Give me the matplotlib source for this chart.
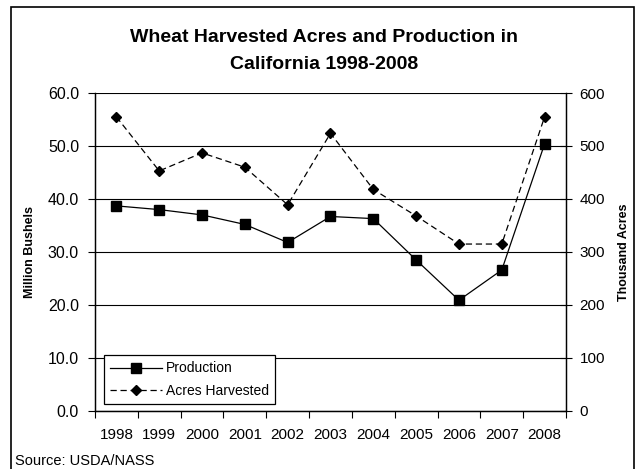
import matplotlib
matplotlib.use("Agg")
from matplotlib import pyplot as plt
from matplotlib.patches import Rectangle

plt.rcParams['font.family'] = ['Liberation Sans', 'DejaVu Sans']

years = ["1998", "1999", "2000", "2001", "2002", "2003",
         "2004", "2005", "2006", "2007", "2008"]
production = [38.7, 38.0, 37.0, 35.2, 31.8, 36.7, 36.3, 28.5, 20.9, 26.6, 50.4]
acres = [555, 453, 487, 460, 389, 524, 418, 368, 315, 315, 555]

x = list(range(len(years)))

fig = plt.figure(figsize=(6.4, 4.69), dpi=100)
ax = fig.add_axes([0.1484, 0.1237, 0.736, 0.678])
ax2 = ax.twinx()

# left axis: production + gridlines
ax.set_ylim(0, 60)
ax.set_yticks([0, 10, 20, 30, 40, 50, 60])
ax.set_yticklabels(["%.1f" % v for v in [0, 10, 20, 30, 40, 50, 60]])
ax.yaxis.grid(True, color="black", linewidth=0.8)
ax.set_axisbelow(True)
ax.tick_params(axis="y", direction="out", length=5, width=0.8, pad=6.5, labelsize=11.5)

ax.set_xlim(-0.5, len(years) - 0.5)
ax.set_xticks(x)
ax.set_xticklabels(years)
ax.set_xticks([i - 0.5 for i in range(len(years) + 1)], minor=True)
ax.tick_params(axis="x", which="major", length=0, pad=12, labelsize=11)
ax.tick_params(axis="x", which="minor", direction="out", length=5, width=0.8)

ax.set_ylabel("Million Bushels", fontsize=9, fontweight="bold")
ax.yaxis.set_label_coords(-0.126, 0.5)

# right axis: acres
ax2.set_ylim(0, 600)
ax2.set_yticks([0, 100, 200, 300, 400, 500, 600])
ax2.tick_params(axis="y", direction="inout", length=8.5, width=0.8, pad=5.5, labelsize=11)
ax2.set_ylabel("Thousand Acres", fontsize=9, fontweight="bold")
ax2.yaxis.set_label_coords(1.110, 0.5)

for a in (ax, ax2):
    a.spines["top"].set_visible(False)
    for s in ("left", "right", "bottom"):
        a.spines[s].set_linewidth(0.9)
        a.spines[s].set_color("black")

l1, = ax2.plot(x, [p * 10 for p in production], color="black", linewidth=0.9,
               marker="s", markersize=7, label="Production")
l2, = ax2.plot(x, acres, color="black", linewidth=0.9, dashes=(5, 3),
               marker="D", markersize=5.5, label="Acres Harvested")

leg = ax2.legend(handles=[l1, l2], loc="lower left", bbox_to_anchor=(0.019, 0.022),
                 fontsize=10, handlelength=3.7, numpoints=1, fancybox=False,
                 framealpha=1, edgecolor="black", borderaxespad=0,
                 borderpad=0.45, labelspacing=0.6, handletextpad=0.3)
leg.get_frame().set_linewidth(0.9)

fig.text(0.506, 0.891, "Wheat Harvested Acres and Production in\nCalifornia 1998-2008",
         ha="center", va="center", fontsize=14, fontweight="bold", linespacing=1.72)
fig.text(0.024, 0.018, "Source: USDA/NASS", ha="left", va="center", fontsize=10.5)

fig.add_artist(Rectangle((11 / 640, -0.02), 623 / 640, 1.005, transform=fig.transFigure,
                         fill=False, edgecolor="black", linewidth=1.2))

fig.savefig("out.png", dpi=100)
